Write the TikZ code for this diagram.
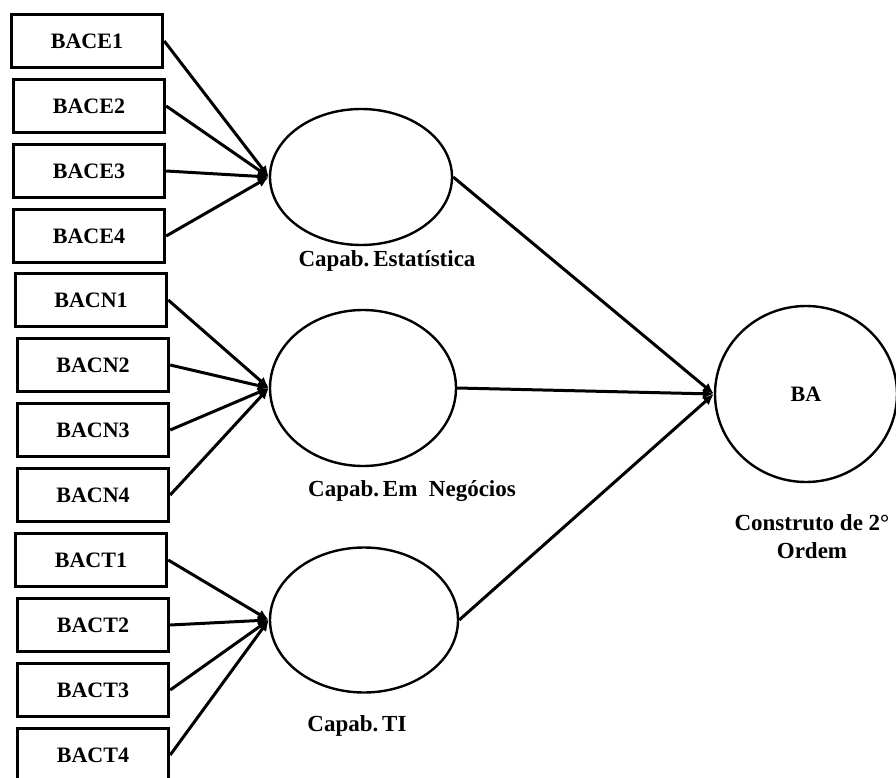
\documentclass[tikz,border=0pt]{standalone}
\usepackage{fontspec}
\setmainfont{Liberation Serif}
\usetikzlibrary{arrows.meta, positioning, shapes.geometric}
\tikzset{
	indicator/.style={rectangle, draw=black, line width=3.4pt, minimum width=151pt, minimum height=53pt, inner sep=0pt, font=\bfseries\fontsize{22}{24}\selectfont},
	latent/.style={ellipse, draw=black, line width=2.4pt, inner sep=0pt},
	caption/.style={align=center, font=\bfseries\fontsize{23}{28}\selectfont},
	arrow/.style={-{Latex[length=11pt, width=10pt]}, line width=3pt},
}

\begin{document}
\begin{tikzpicture}[x=1pt, y=-1pt]
		\useasboundingbox (0,0) rectangle (896,778);
		% indicadores
		\node[indicator] (ce1) at (87,41) {BACE1};
		\node[indicator] (ce2) at (89,106) {BACE2};
		\node[indicator] (ce3) at (89,171) {BACE3};
		\node[indicator] (ce4) at (89,236) {BACE4};
		\node[indicator] (cn1) at (91,300) {BACN1};
		\node[indicator] (cn2) at (93,365) {BACN2};
		\node[indicator] (cn3) at (93,430) {BACN3};
		\node[indicator] (cn4) at (93,495) {BACN4};
		\node[indicator] (ct1) at (91,560) {BACT1};
		\node[indicator] (ct2) at (93,625) {BACT2};
		\node[indicator] (ct3) at (93,690) {BACT3};
		\node[indicator] (ct4) at (93,755) {BACT4};
		% construtos
		\node[latent, minimum width=182pt, minimum height=136pt] (stat) at (361,177) {};
		\node[latent, minimum width=186pt, minimum height=156pt] (neg) at (363,388) {};
		\node[latent, minimum width=188pt, minimum height=145pt] (ti) at (364,620) {};
		\node[latent, minimum width=182pt, minimum height=176pt, font=\bfseries\fontsize{22}{24}\selectfont] (ba) at (806,394) {BA};
		\node[caption] (statlbl) at (387,261) {Capab.\,Estatística};
		\node[caption] (neglbl) at (412,491) {Capab.\,Em\ \ Negócios};
		\node[caption] (tilbl) at (357,726) {Capab.\,TI};
		\node[caption] (balbl) at (812,537) {Construto de 2°\\Ordem};
		\draw[arrow] (ce1.east) -- (stat.west);
		\draw[arrow] (ce2.east) -- (stat.west);
		\draw[arrow] (ce3.east) -- (stat.west);
		\draw[arrow] (ce4.east) -- (stat.west);
		\draw[arrow] (cn1.east) -- (neg.west);
		\draw[arrow] (cn2.east) -- (neg.west);
		\draw[arrow] (cn3.east) -- (neg.west);
		\draw[arrow] (cn4.east) -- (neg.west);
		\draw[arrow] (ct1.east) -- (ti.west);
		\draw[arrow] (ct2.east) -- (ti.west);
		\draw[arrow] (ct3.east) -- (ti.west);
		\draw[arrow] (ct4.east) -- (ti.west);
		\draw[arrow] (stat.east) -- (ba.west);
		\draw[arrow] (neg.east) -- (ba.west);
		\draw[arrow] (ti.east) -- (ba.west);
	\end{tikzpicture}
\end{document}
